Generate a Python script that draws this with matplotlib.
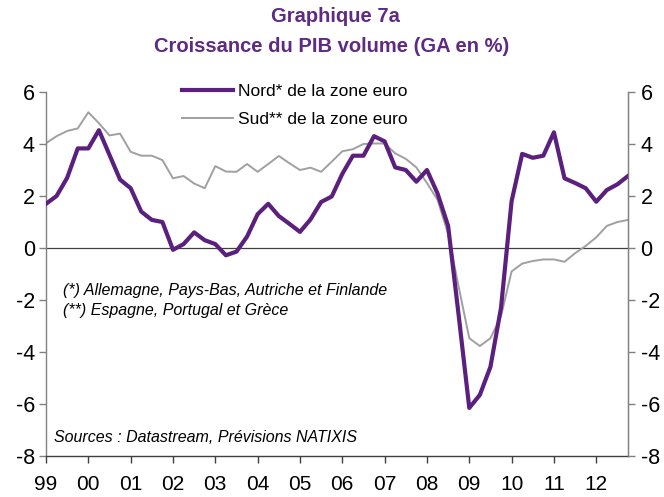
import numpy as np
import matplotlib.pyplot as plt

plt.rcParams['font.family'] = ['Liberation Sans', 'DejaVu Sans']
plt.rcParams['axes.unicode_minus'] = False

# quarterly, 1999Q1 .. 2012Q4 (growth y/y, %)
years = list(range(1999, 2013))
year_labels = ['99', '00', '01', '02', '03', '04', '05', '06', '07', '08', '09', '10', '11', '12']

nord = [1.7, 2.0, 2.7, 3.83, 3.83, 4.53, 3.58, 2.63, 2.3, 1.4, 1.08, 1.0,
        -0.07, 0.15, 0.6, 0.3, 0.15, -0.28, -0.14, 0.44, 1.3, 1.7, 1.23, 0.93,
        0.62, 1.1, 1.77, 1.98, 2.85, 3.55, 3.55, 4.3, 4.1, 3.1, 3.0, 2.55,
        3.0, 2.1, 0.85, -2.6, -6.15, -5.65, -4.57, -2.3, 1.8, 3.62, 3.47, 3.55,
        4.45, 2.68, 2.5, 2.3, 1.78, 2.23, 2.45, 2.77]
sud = [4.03, 4.3, 4.5, 4.6, 5.22, 4.8, 4.33, 4.4, 3.7, 3.55, 3.55, 3.38,
       2.68, 2.77, 2.48, 2.3, 3.15, 2.94, 2.93, 3.23, 2.93, 3.23, 3.54, 3.26,
       3.0, 3.09, 2.93, 3.32, 3.72, 3.8, 4.0, 4.02, 4.02, 3.64, 3.43, 3.1,
       2.5, 1.85, 0.55, -1.5, -3.47, -3.77, -3.47, -2.62, -0.9, -0.6, -0.5, -0.44,
       -0.44, -0.53, -0.2, 0.08, 0.41, 0.85, 1.0, 1.08]

t = 1999 + np.arange(len(nord)) / 4.0

purple = '#5B1F7D'
title_col = '#5E2A84'
grey = '#A0A0A0'
axis_grey = '#808080'

fig = plt.figure(figsize=(6.64, 4.97), dpi=100)
ax = fig.add_axes([46/664, 41/497, 582/664, 364/497])

ax.axhline(0, color='#404040', linewidth=0.9, zorder=1)
ax.plot(t, sud, color=grey, linewidth=1.4, label='Sud** de la zone euro', zorder=2)
ax.plot(t, nord, color=purple, linewidth=3.0, label='Nord* de la zone euro', zorder=3)

ax.set_xlim(1999, 2012.75)
ax.set_ylim(-8, 6)
ax.set_yticks(range(-8, 7, 2))
ax.set_xticks(years)
ax.set_xticklabels(year_labels)

ax.spines['top'].set_visible(False)
ax.spines['left'].set_color(axis_grey)
ax.spines['right'].set_color(axis_grey)
ax.spines['bottom'].set_color('#404040')
for s in ['left', 'right', 'bottom']:
    ax.spines[s].set_linewidth(1.0)

ax.tick_params(axis='y', labelsize=15.5, length=5, width=1, color=axis_grey, pad=3)
ax.tick_params(axis='x', labelsize=15, length=5, width=1, color='#404040', pad=8.5)

ax2 = ax.twinx()
ax2.set_ylim(-8, 6)
ax2.set_yticks(range(-8, 7, 2))
ax2.tick_params(axis='y', labelsize=15.5, length=5, width=1, color=axis_grey, pad=4)
for s in ['top', 'left', 'bottom']:
    ax2.spines[s].set_visible(False)
ax2.spines['right'].set_color(axis_grey)

h, l = ax.get_legend_handles_labels()
fig.legend(h[::-1], l[::-1], loc='upper left', bbox_to_anchor=(182/664, 1 - 84/497),
           frameon=False, fontsize=12.5, handlelength=2.93, handletextpad=0.3,
           labelspacing=0.72, borderpad=0, borderaxespad=0)

fig.text(63/664, 1 - 290/497, "(*) Allemagne, Pays-Bas, Autriche et Finlande",
         fontsize=11.5, style='italic', va='center')
fig.text(63/664, 1 - 311/497, "(**) Espagne, Portugal et Grèce",
         fontsize=11.5, style='italic', va='center')
fig.text(54/664, 1 - 437/497, "Sources : Datastream, Prévisions NATIXIS",
         fontsize=11.5, style='italic', va='center')

fig.text(0.505, 1 - 17/497, "Graphique 7a", fontsize=14.5, fontweight='bold',
         color=title_col, ha='center', va='center')
fig.text(0.5, 1 - 47/497, "Croissance du PIB volume (GA en %)", fontsize=14.5,
         fontweight='bold', color=title_col, ha='center', va='center')

fig.savefig('out.png', dpi=100)
